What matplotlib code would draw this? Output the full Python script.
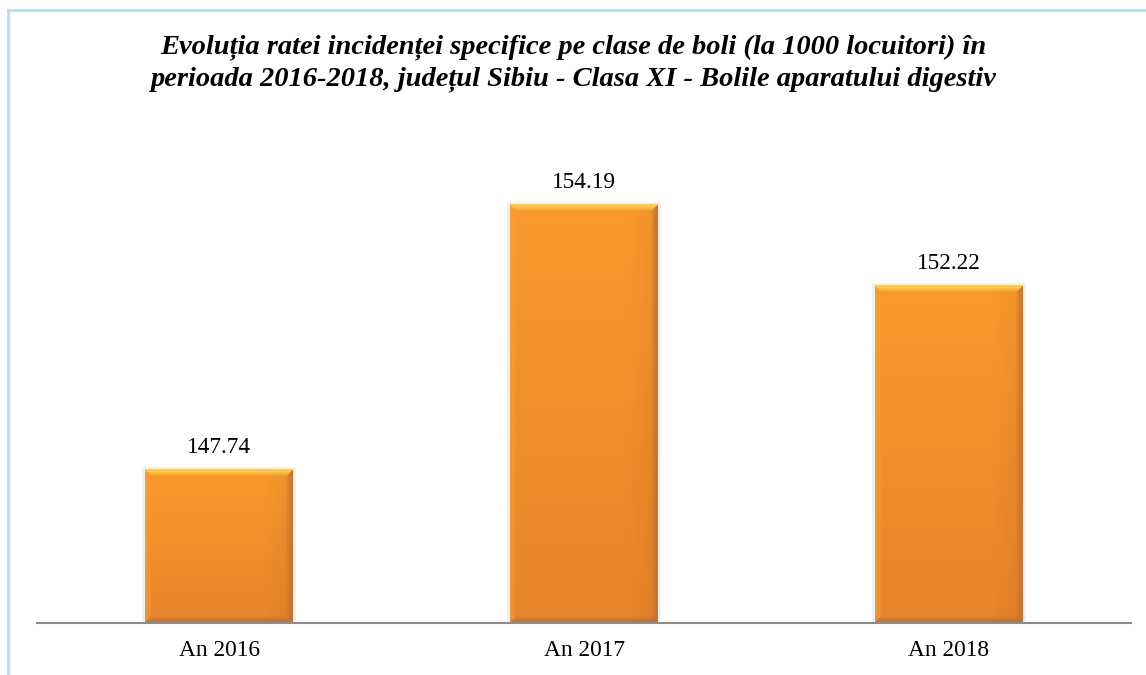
import numpy as np
import matplotlib
matplotlib.use("Agg")
import matplotlib.pyplot as plt
from matplotlib.patches import Rectangle
from matplotlib.lines import Line2D
from matplotlib.colors import to_rgb

categories = ["An 2016", "An 2017", "An 2018"]
values = [147.74, 154.19, 152.22]
title_lines = [
    "Evoluția ratei incidenței specifice pe clase de boli (la 1000 locuitori) în",
    "perioada 2016-2018, județul Sibiu - Clasa XI - Bolile aparatului digestiv",
]

W, H, DPI = 1146, 675, 100
fig = plt.figure(figsize=(W / DPI, H / DPI), dpi=DPI)
fig.patch.set_facecolor("white")

# plot area in pixels
ax_l, ax_r, ax_b, ax_t = 37, 1131, 623, 130
ax = fig.add_axes([ax_l / W, (H - ax_b) / H, (ax_r - ax_l) / W, (ax_b - ax_t) / H])
ymin, ymax = 144.0, 156.0
ax.set_xlim(-0.5, len(categories) - 0.5)
ax.set_ylim(ymin, ymax)
for s in ["top", "right", "left"]:
    ax.spines[s].set_visible(False)
ax.spines["bottom"].set_color("#8c8c8c")
ax.spines["bottom"].set_linewidth(1.5)
ax.spines["bottom"].set_zorder(5)
ax.set_yticks([])
ax.set_xticks(range(len(categories)))
ax.set_xticklabels(categories, fontfamily="Liberation Serif", fontsize=16.8)
ax.tick_params(axis="x", length=0, pad=12)

serif = "Liberation Serif"
bar_w = 0.405
px_per_x = (ax_r - ax_l) / (len(categories))
px_per_y = (ax_b - ax_t) / (ymax - ymin)


def bevel_image(wpx, hpx):
    """Orange fill with a soft vertical gradient and a bevelled rim."""
    yy = np.linspace(0, 1, hpx)[:, None, None]
    xx = np.linspace(0, 1, wpx)[None, :, None]
    top_c = np.array(to_rgb("#fa9a2d"))
    bot_c = np.array(to_rgb("#e8842a"))
    img = top_c * (1 - yy) + bot_c * yy
    img = np.broadcast_to(img, (hpx, wpx, 3)).copy()
    # slight darkening toward the right side
    img *= (1 - 0.05 * np.clip((xx - 0.8) / 0.2, 0, 1))
    b = 7
    ys, xs = np.mgrid[0:hpx, 0:wpx]
    d_top = ys
    d_bot = hpx - 1 - ys
    d_left = xs
    d_right = wpx - 1 - xs
    dmin = np.minimum.reduce([d_top, d_bot, d_left, d_right])
    edge = dmin < b
    top_m = edge & (d_top == dmin)
    bot_m = edge & (d_bot == dmin) & ~top_m
    left_m = edge & (d_left == dmin) & ~top_m & ~bot_m
    right_m = edge & (d_right == dmin) & ~top_m & ~bot_m & ~left_m
    t = np.clip(1.3 * (1 - dmin / b), 0, 1)  # strong at the rim, fading inward
    def blend(mask, col, strength):
        c = np.array(to_rgb(col))
        w = (t[mask] * strength)[:, None]
        img[mask] = img[mask] * (1 - w) + c * w
    blend(top_m, "#f7cd52", 1.0)
    blend(bot_m, "#bf6e2e", 0.8)
    blend(left_m, "#f6a43a", 0.5)
    blend(right_m, "#c4722f", 0.8)
    return img


for i, v in enumerate(values):
    x0 = i - bar_w / 2
    # faint shadow around the bar
    sh = Rectangle((x0 - 3 / px_per_x, ymin), bar_w + 6 / px_per_x, v - ymin + 2 / px_per_y,
                   facecolor="#f1f1f1", edgecolor="none", zorder=1)
    ax.add_patch(sh)
    bar = ax.bar(i, v - ymin, bottom=ymin, width=bar_w, color="#f7941f", zorder=2)[0]
    wpx = int(round(bar_w * px_per_x))
    hpx = int(round((v - ymin) * px_per_y))
    img = bevel_image(wpx, hpx)
    im = ax.imshow(img, extent=(x0, x0 + bar_w, ymin, v), aspect="auto",
                   interpolation="bilinear", zorder=3, origin="upper")
    im.set_clip_path(bar)
    ax.annotate(f"{v:.2f}", (i, v), xytext=(0, 11.5), textcoords="offset points",
                ha="center", va="baseline", fontfamily=serif, fontsize=16.8, color="black")

# title
for k, line in enumerate(title_lines):
    fig.text(0.5, 1 - (47 + 32 * k) / H, line, ha="center", va="center", fontfamily=serif,
             fontsize=20.5, fontweight="bold", fontstyle="italic")

# outer frame (top and left edges)
frame_c = "#b9dfe9"
fig.add_artist(Line2D([8 / W, 8 / W], [0, 1 - 10 / H], transform=fig.transFigure,
                      color=frame_c, linewidth=2))
fig.add_artist(Line2D([8 / W, 1], [1 - 10 / H, 1 - 10 / H], transform=fig.transFigure,
                      color=frame_c, linewidth=2))

fig.savefig("out.png", dpi=DPI, facecolor="white")
